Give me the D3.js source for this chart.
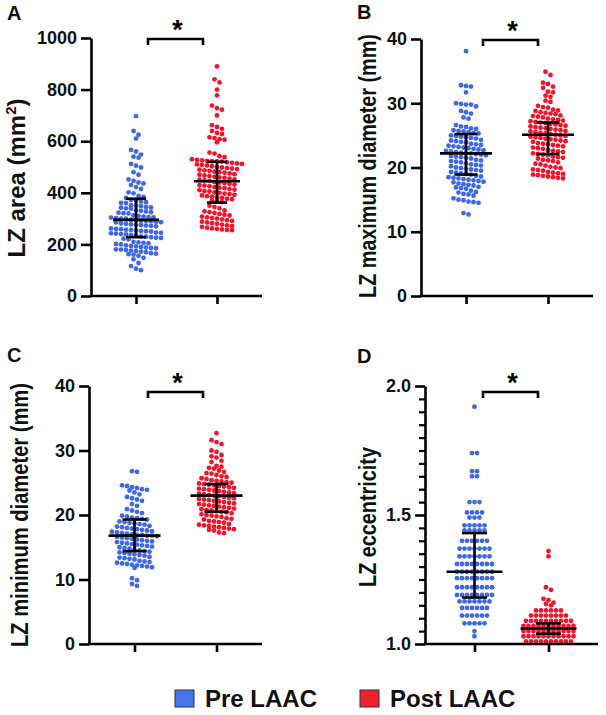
<!DOCTYPE html>
<html>
<head>
<meta charset="utf-8">
<script src="https://cdn.jsdelivr.net/npm/d3@7"></script>
<style>
  body { margin: 0; background: #fff; }
  svg { display: block; }
  text { font-family: Arial, "Liberation Sans", sans-serif; }
</style>
</head>
<body>
<svg id="chart"></svg>
<script>
const groups = ["Pre LAAC", "Post LAAC"];
const groupColors = ["#3f68e4", "#f0142d"];
const legendColors = ["#4574f0", "#f2202e"];

// A: LZ area (mm2)
const preArea = [697, 640, 625, 610, 566, 560, 548, 540, 536, 512, 505, 498, 480, 470, 452, 446, 440, 436, 430, 422,
  415, 402, 398, 388, 384, 380, 372, 370, 366, 364, 361, 360, 352, 350, 348, 345, 343, 342, 340, 338,
  332, 330, 328, 325, 323, 321, 320, 312, 310, 308, 306, 305, 304, 302, 300, 300, 296, 294, 292, 291,
  290, 288, 286, 285, 281, 280, 278, 276, 275, 273, 272, 270, 262, 260, 259, 257, 256, 254, 252, 251,
  250, 246, 245, 243, 242, 240, 239, 237, 235, 231, 230, 228, 226, 225, 222, 220, 210, 208, 206, 204,
  202, 200, 196, 194, 192, 190, 188, 186, 185, 181, 180, 178, 176, 174, 172, 170, 166, 164, 162, 160,
  156, 148, 142, 128, 116, 106, 100];
const postArea = [890, 840, 828, 800, 778, 738, 728, 722, 700, 662, 655, 648, 640, 632, 628, 615, 612, 608, 606, 596,
  556, 552, 542, 538, 530, 528, 526, 524, 523, 522, 521, 518, 516, 514, 512, 510, 508, 506, 503, 500,
  498, 496, 494, 492, 490, 487, 485, 482, 480, 478, 475, 472, 470, 467, 465, 462, 460, 458, 455, 452,
  450, 448, 446, 442, 440, 438, 435, 432, 430, 428, 425, 422, 420, 418, 415, 412, 410, 407, 405, 402,
  400, 397, 395, 392, 390, 387, 385, 382, 380, 377, 375, 370, 367, 364, 350, 345, 340, 332, 328, 325,
  322, 318, 315, 312, 308, 305, 302, 300, 297, 294, 291, 288, 285, 282, 280, 277, 274, 271, 268, 265,
  262, 260, 258, 256, 255];

// B: LZ maximum diameter (mm)
const preMax = [38.1, 32.8, 32.7, 32.6, 31.7, 30.0, 29.9, 29.8, 29.8, 29.5, 28.8, 28.6, 28.4, 27.8, 27.6, 26.6, 26.4, 26.3, 26.1, 26.0,
  25.8, 25.7, 25.6, 25.5, 25.4, 25.3, 25.0, 24.9, 24.8, 24.7, 24.6, 24.5, 24.3, 24.2, 24.1, 24.0, 23.9, 23.7, 23.6, 23.5,
  23.4, 23.3, 23.2, 23.1, 23.0, 22.9, 22.8, 22.7, 22.6, 22.5, 22.4, 22.3, 22.2, 22.2, 22.1, 22.0, 21.9, 21.8, 21.7, 21.6,
  21.5, 21.4, 21.2, 21.1, 21.0, 20.9, 20.8, 20.6, 20.5, 20.4, 20.3, 20.2, 20.0, 19.9, 19.8, 19.7, 19.6, 19.5, 19.3, 19.2,
  19.1, 19.0, 18.9, 18.7, 18.6, 18.5, 18.4, 18.3, 18.2, 18.1, 18.0, 17.9, 17.8, 17.7, 17.5, 17.4, 17.3, 17.2, 17.0, 16.9,
  16.8, 16.7, 16.4, 16.2, 16.1, 15.9, 15.8, 15.6, 15.2, 15.0, 14.9, 14.7, 14.6, 14.5, 12.9, 12.7];
const postMax = [34.9, 34.4, 33.2, 33.0, 32.6, 32.4, 31.8, 31.7, 31.2, 31.0, 30.4, 30.2, 29.6, 29.4, 29.3, 29.0, 28.9, 28.8, 28.6, 28.5,
  28.4, 28.3, 28.1, 28.0, 27.9, 27.8, 27.6, 27.5, 27.4, 27.3, 27.2, 27.1, 27.0, 26.9, 26.8, 26.7, 26.6, 26.5, 26.4, 26.3,
  26.2, 26.1, 26.0, 25.9, 25.8, 25.7, 25.6, 25.5, 25.4, 25.3, 25.2, 25.1, 25.0, 24.9, 24.8, 24.7, 24.6, 24.5, 24.4, 24.3,
  24.2, 24.1, 24.0, 23.8, 23.7, 23.6, 23.5, 23.4, 23.3, 23.1, 23.0, 22.9, 22.7, 22.6, 22.5, 22.4, 22.2, 22.1, 22.0, 21.9,
  21.7, 21.6, 21.5, 21.4, 21.2, 21.1, 21.0, 20.8, 20.6, 20.5, 20.3, 20.1, 20.0, 19.9, 19.7, 19.6, 19.5, 19.3, 19.2, 19.1,
  19.0, 18.9, 18.8, 18.7, 18.6, 18.5, 18.4, 18.3];

// C: LZ minimum diameter (mm)
const preMin = [26.8, 26.7, 24.6, 24.5, 24.3, 24.2, 24.0, 23.9, 23.8, 23.5, 23.2, 22.8, 22.6, 22.4, 22.2, 21.7, 21.4, 20.9, 20.7, 20.5,
  20.3, 19.9, 19.8, 19.6, 19.5, 19.4, 19.3, 19.0, 18.9, 18.8, 18.7, 18.6, 18.5, 18.3, 18.2, 18.1, 18.0, 17.9, 17.8, 17.7,
  17.6, 17.5, 17.4, 17.3, 17.2, 17.1, 17.0, 16.9, 16.9, 16.8, 16.8, 16.7, 16.6, 16.5, 16.4, 16.3, 16.2, 16.1, 16.0, 15.9,
  15.8, 15.7, 15.6, 15.5, 15.4, 15.3, 15.2, 15.1, 15.0, 14.9, 14.8, 14.6, 14.5, 14.4, 14.3, 14.2, 14.1, 14.0, 13.9, 13.8,
  13.7, 13.5, 13.4, 13.3, 13.2, 13.1, 12.9, 12.8, 12.7, 12.6, 12.5, 12.4, 12.3, 12.2, 12.1, 12.0, 11.9, 11.8, 10.2, 9.9,
  9.3, 9.0];
const postMin = [32.7, 31.6, 31.3, 31.0, 30.0, 29.8, 29.3, 29.1, 28.9, 28.4, 28.2, 27.6, 27.5, 27.3, 27.2, 26.9, 26.7, 26.5, 26.4, 26.2,
  26.0, 25.9, 25.7, 25.6, 25.4, 25.3, 25.2, 25.1, 25.0, 24.9, 24.8, 24.7, 24.6, 24.5, 24.4, 24.3, 24.2, 24.1, 24.0, 23.9,
  23.8, 23.7, 23.6, 23.5, 23.4, 23.3, 23.2, 23.1, 23.0, 22.9, 22.8, 22.7, 22.6, 22.5, 22.4, 22.3, 22.2, 22.1, 22.0, 21.9,
  21.8, 21.7, 21.6, 21.5, 21.4, 21.3, 21.2, 21.1, 21.0, 20.9, 20.8, 20.7, 20.6, 20.5, 20.4, 20.3, 20.1, 20.0, 19.9, 19.8,
  19.7, 19.5, 19.4, 19.3, 19.1, 19.0, 18.9, 18.8, 18.6, 18.5, 18.4, 18.3, 18.2, 18.1, 18.0, 17.9, 17.8, 17.7, 17.6, 17.3,
  17.2];

// D: LZ eccentricity
const preEcc = [1.92, 1.74, 1.74, 1.67, 1.67, 1.65, 1.65, 1.55, 1.55, 1.55, 1.51, 1.51, 1.51, 1.51, 1.49, 1.49, 1.49, 1.46, 1.46, 1.46,
  1.46, 1.46, 1.44, 1.44, 1.44, 1.44, 1.44, 1.40, 1.40, 1.40, 1.40, 1.40, 1.40, 1.37, 1.37, 1.37, 1.37, 1.37, 1.37, 1.37,
  1.34, 1.34, 1.34, 1.34, 1.34, 1.34, 1.34, 1.31, 1.31, 1.31, 1.31, 1.31, 1.31, 1.31, 1.31, 1.28, 1.28, 1.28, 1.28, 1.28,
  1.28, 1.28, 1.28, 1.255, 1.255, 1.255, 1.255, 1.255, 1.255, 1.255, 1.255, 1.22, 1.22, 1.22, 1.22, 1.22, 1.22, 1.22, 1.22, 1.19,
  1.19, 1.19, 1.19, 1.19, 1.19, 1.19, 1.19, 1.165, 1.165, 1.165, 1.165, 1.165, 1.165, 1.165, 1.14, 1.14, 1.14, 1.14, 1.14, 1.14,
  1.11, 1.11, 1.11, 1.11, 1.11, 1.11, 1.08, 1.08, 1.08, 1.08, 1.08, 1.05, 1.03];
const postEcc = [1.36, 1.34, 1.22, 1.21, 1.175, 1.17, 1.16, 1.155, 1.15, 1.13, 1.13, 1.13, 1.13, 1.13, 1.13, 1.11, 1.11, 1.11, 1.11,
  1.11, 1.11, 1.11, 1.11, 1.09, 1.09, 1.09, 1.09, 1.09, 1.09, 1.09, 1.09, 1.09, 1.09, 1.07, 1.07, 1.07, 1.07, 1.07, 1.07,
  1.07, 1.07, 1.07, 1.07, 1.07, 1.05, 1.05, 1.05, 1.05, 1.05, 1.05, 1.05, 1.05, 1.05, 1.05, 1.05, 1.03, 1.03, 1.03, 1.03,
  1.03, 1.03, 1.03, 1.03, 1.03, 1.03, 1.03, 1.01, 1.01, 1.01, 1.01, 1.01, 1.01, 1.01, 1.01, 1.01, 1.01];

// median, lower quartile, upper quartile per group
const areaStats = [[295, 228, 377], [445, 362, 520]];
const maxStats = [[22.2, 18.9, 25.2], [25.1, 22.1, 27.0]];
const minStats = [[16.8, 14.4, 19.3], [23.0, 20.5, 24.8]];
const eccStats = [[1.28, 1.18, 1.43], [1.06, 1.04, 1.08]];

const areaTicks = [0, 200, 400, 600, 800, 1000];
const diamTicks = [0, 10, 20, 30, 40];
const eccTicks = [1.0, 1.5, 2.0];
const eccMinorTicks = [1.05, 1.1, 1.15, 1.2, 1.25, 1.3, 1.35, 1.4, 1.45, 1.55, 1.6, 1.65, 1.7, 1.75, 1.8, 1.85, 1.9, 1.95];

const width = 606, height = 715;
const svg = d3.select("#chart").attr("width", width).attr("height", height);

const panels = [
  {letter: "A", data: [preArea, postArea], stats: areaStats, domain: [0, 1000], ticks: areaTicks, fmt: d3.format("d"),
    left: 91, right: 262, top: 38, bottom: 296, pad: 0.556, meanW: 23, capW: 10,
    lx: 25, ly: 178, lsize: 24, llen: null, bracket: [148, 203, 39], letterPos: [7, 20]},
  {letter: "B", data: [preMax, postMax], stats: maxStats, domain: [0, 40], ticks: diamTicks, fmt: d3.format("d"),
    left: 421, right: 593, top: 39, bottom: 296, pad: 0.549, meanW: 26, capW: 11.5,
    lx: 376, ly: 166, lsize: 23, llen: 264, text: "LZ maximum diameter (mm)", bracket: [483, 538, 40], letterPos: [357, 19]},
  {letter: "C", data: [preMin, postMin], stats: minStats, domain: [0, 40], ticks: diamTicks, fmt: d3.format("d"),
    left: 89, right: 262, top: 386, bottom: 644, pad: 0.555, meanW: 26, capW: 12,
    lx: 28, ly: 515, lsize: 23, llen: 264, text: "LZ minimum diameter (mm)", bracket: [148, 203, 392], letterPos: [7, 362]},
  {letter: "D", data: [preEcc, postEcc], stats: eccStats, domain: [1, 2], ticks: eccTicks, fmt: d3.format(".1f"),
    minor: eccMinorTicks,
    left: 425, right: 598, top: 386, bottom: 644, pad: 0.669, meanW: 28, capW: 12.5,
    lx: 376, ly: 517, lsize: 23, llen: 140, text: "LZ eccentricity", bracket: [483, 538, 392], letterPos: [357, 363]}
];

const r = 2.4;
const rowH = 4.8;   // dots closer than this in y share a row
const gap = 5.0;    // horizontal spacing inside a row

// prism-style scatter: bin dots into rows, spread each row around the centre
function rows(vals, y) {
  const nodes = vals.map(v => ({v: v, y: y(v), dx: 0})).sort((a, b) => a.y - b.y);
  let row = [];
  const flush = () => {
    row.forEach((n, j) => { n.dx = (j - (row.length - 1) / 2) * gap; });
    row = [];
  };
  nodes.forEach(n => {
    if (row.length && n.y - row[0].y >= rowH) flush();
    row.push(n);
  });
  flush();
  return nodes;
}

panels.forEach(drawPanel);

function drawPanel(p) {
  const g = svg.append("g");
  const y = d3.scaleLinear().domain(p.domain).range([p.bottom, p.top]);
  const x = d3.scalePoint().domain(groups).range([p.left, p.right]).padding(p.pad);

  // dots
  p.data.forEach((vals, i) => {
    g.append("g")
      .attr("fill", groupColors[i])
      .selectAll("circle")
      .data(rows(vals, y))
      .join("circle")
      .attr("cx", d => x(groups[i]) + d.dx)
      .attr("cy", d => d.y)
      .attr("r", r);
  });

  // median + IQR
  const bars = g.append("g").attr("stroke", "#000").attr("stroke-width", 2.6).attr("fill", "none");
  p.stats.forEach((s, i) => {
    const cx = x(groups[i]);
    bars.append("line").attr("x1", cx - p.meanW).attr("x2", cx + p.meanW).attr("y1", y(s[0])).attr("y2", y(s[0]));
    bars.append("line").attr("x1", cx).attr("x2", cx).attr("y1", y(s[1])).attr("y2", y(s[2]));
    bars.append("line").attr("x1", cx - p.capW).attr("x2", cx + p.capW).attr("y1", y(s[1])).attr("y2", y(s[1]));
    bars.append("line").attr("x1", cx - p.capW).attr("x2", cx + p.capW).attr("y1", y(s[2])).attr("y2", y(s[2]));
  });

  // axes
  if (p.minor) {
    g.append("g")
      .attr("transform", `translate(${p.left},0)`)
      .call(d3.axisLeft(y).tickValues(p.minor).tickSize(6).tickSizeOuter(0).tickFormat(""))
      .call(a => a.select(".domain").remove())
      .call(a => a.selectAll("line").attr("stroke-width", 2.2));
  }
  const yAxis = g.append("g")
    .attr("transform", `translate(${p.left},0)`)
    .call(d3.axisLeft(y).tickValues(p.ticks).tickSize(10).tickPadding(4).tickSizeOuter(0).tickFormat(p.fmt));
  yAxis.select(".domain").attr("stroke-width", 2.6);
  yAxis.selectAll("line").attr("stroke-width", 2.6);
  yAxis.selectAll("text").attr("font-size", 18).attr("font-weight", "bold").attr("font-family", null).attr("fill", "#111");

  const xAxis = g.append("g")
    .attr("transform", `translate(0,${p.bottom})`)
    .call(d3.axisBottom(x).tickSize(8).tickSizeOuter(0).tickFormat(""));
  xAxis.select(".domain").attr("stroke-width", 2.6).attr("d", `M${p.left - 1.3},0H${p.right}`);
  xAxis.selectAll("line").attr("stroke-width", 2.6);

  // y label
  const lab = g.append("text")
    .attr("transform", `translate(${p.lx},${p.ly}) rotate(-90)`)
    .attr("text-anchor", "middle")
    .attr("font-weight", "bold")
    .attr("font-size", p.lsize)
    .attr("fill", "#111");
  if (p.llen) {
    // squeeze the long labels along their length, as in the figure
    lab.text(p.text);
    const k = Math.min(1, p.llen / lab.node().getComputedTextLength());
    lab.attr("transform", `translate(${p.lx},${p.ly}) rotate(-90) scale(${k},1)`);
  } else {
    lab.append("tspan").text("LZ area (mm");
    lab.append("tspan").attr("font-size", 15).attr("dy", -9).text("2");
    lab.append("tspan").attr("dy", 9).text(")");
  }

  // significance bracket
  const [bx1, bx2, by] = p.bracket;
  g.append("path")
    .attr("d", `M${bx1},${by + 6}V${by}H${bx2}V${by + 6}`)
    .attr("fill", "none").attr("stroke", "#000").attr("stroke-width", 2.6);
  g.append("text")
    .attr("x", (bx1 + bx2) / 2 + 2).attr("y", by)
    .attr("text-anchor", "middle").attr("font-size", 27).attr("font-weight", "bold")
    .text("*");

  // panel letter
  g.append("text")
    .attr("x", p.letterPos[0]).attr("y", p.letterPos[1])
    .attr("font-size", 20).attr("font-weight", "bold").attr("fill", "#111")
    .text(p.letter);
}

// legend
const legendX = [175, 360];
const legend = svg.append("g");
groups.forEach((name, i) => {
  legend.append("rect")
    .attr("x", legendX[i]).attr("y", 690).attr("width", 19).attr("height", 17)
    .attr("fill", legendColors[i]).attr("stroke", "#333").attr("stroke-width", 1);
  legend.append("text")
    .attr("x", legendX[i] + 30).attr("y", 707)
    .attr("font-size", 24).attr("font-weight", "bold").attr("fill", "#111")
    .text(name);
});
</script>
</body>
</html>
